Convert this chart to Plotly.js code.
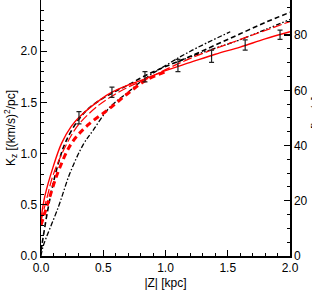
<!DOCTYPE html>
<html><head><meta charset="utf-8">
<script src="https://cdn.plot.ly/plotly-3.0.1.min.js"></script>
<style>html,body{margin:0;padding:0;background:#fff}#c{width:312px;height:291px}</style>
</head><body><div id="c"></div>
<script>
// Data points with error bars
const dataZ = [0.305, 0.57, 0.835, 1.10, 1.37, 1.64, 1.92];
const dataK = [1.35, 1.60, 1.75, 1.86, 1.95, 2.06, 2.16];
const dataErr = [0.06, 0.05, 0.05, 0.06, 0.06, 0.05, 0.045];

// Red solid model
const redSolidZ = [0.0, 0.03, 0.1, 0.165, 0.243, 0.31, 0.48, 0.57, 0.7, 0.835, 1.0, 1.2, 1.4, 1.6, 1.8, 2.0];
const redSolidK = [0.36, 0.58, 0.88, 1.10, 1.265, 1.36, 1.53, 1.60, 1.67, 1.73, 1.81, 1.89, 1.97, 2.04, 2.12, 2.19];

// Red thin dashed model
const redDashZ = [0.0, 0.05, 0.1, 0.2, 0.3, 0.45, 0.57, 0.7, 0.835, 1.0, 1.2, 1.5, 1.75, 2.0];
const redDashK = [0.34, 0.58, 0.80, 1.08, 1.28, 1.46, 1.56, 1.65, 1.72, 1.82, 1.93, 2.07, 2.18, 2.29];

// Red thick dashed model
const redThickZ = [0.0, 0.056, 0.137, 0.245, 0.377, 0.54, 0.69, 0.835, 1.0];
const redThickK = [0.30, 0.52, 0.82, 1.10, 1.28, 1.43, 1.58, 1.71, 1.80];

// Black dashed model
const blackDashZ = [0.0, 0.05, 0.1, 0.15, 0.2, 0.3, 0.4, 0.57, 0.7, 0.835, 1.0, 1.2, 1.4, 1.6, 1.8, 2.0];
const blackDashK = [0.05, 0.42, 0.72, 0.95, 1.12, 1.33, 1.46, 1.59, 1.67, 1.76, 1.85, 1.95, 2.06, 2.17, 2.28, 2.38];

// Black dash-dot model
const blackDotDashZ = [0.0, 0.016, 0.14, 0.233, 0.34, 0.42, 0.55, 0.69, 0.82, 1.0, 1.2, 1.52];
const blackDotDashK = [0.0, 0.09, 0.48, 0.81, 1.09, 1.23, 1.45, 1.59, 1.72, 1.86, 2.00, 2.19];

// Black dash-dot-dot-dot model
const blackD3Z = [1.1, 1.2, 1.4, 1.55, 1.8, 2.0];
const blackD3K = [1.895, 1.945, 2.03, 2.09, 2.21, 2.31];

const axisFont = {family: 'Liberation Sans, Arial, sans-serif', size: 12, color: '#000'};

const traces = [
  {x: blackDotDashZ, y: blackDotDashK, mode: 'lines', line: {color: '#000', width: 1.3, dash: '5px,2px,1.5px,2px', shape: 'spline'}},
  {x: blackDashZ, y: blackDashK, mode: 'lines', line: {color: '#000', width: 1.6, dash: '5px,3px', shape: 'spline'}},
  {x: blackD3Z, y: blackD3K, mode: 'lines', line: {color: '#000', width: 1.3, dash: '5px,2px,1.5px,2px,1.5px,2px,1.5px,2px', shape: 'spline'}},
  {x: redThickZ, y: redThickK, mode: 'lines', line: {color: '#ff0000', width: 3, dash: '6px,4px', shape: 'spline'}},
  {x: redDashZ, y: redDashK, mode: 'lines', line: {color: '#ff0000', width: 1.2, dash: '9px,3px', shape: 'spline'}},
  {x: redSolidZ, y: redSolidK, mode: 'lines', line: {color: '#ff0000', width: 1.4, shape: 'spline'}},
  {x: dataZ, y: dataK, mode: 'markers', marker: {size: 1, color: '#000'},
   error_y: {type: 'data', array: dataErr, visible: true, color: '#222', thickness: 1.2, width: 2.5}}
];

const layout = {
  width: 312, height: 291,
  margin: {l: 41, r: 22, t: 0, b: 35, pad: 0},
  paper_bgcolor: '#fff', plot_bgcolor: '#fff',
  showlegend: false,
  font: axisFont,
  xaxis: {
    range: [0, 2.0], tickvals: [0, 0.5, 1.0, 1.5, 2.0], ticktext: ['0.0', '0.5', '1.0', '1.5', '2.0'],
    ticks: 'inside', ticklen: 6, tickwidth: 1.2, tickcolor: '#000',
    minor: {dtick: 0.1, ticks: 'inside', ticklen: 3, tickcolor: '#000', tickwidth: 1},
    showline: true, linecolor: '#000', linewidth: 1.5, mirror: false,
    showgrid: false, zeroline: false, tickfont: axisFont,
    title: {text: '|Z| [kpc]', font: axisFont, standoff: 4}
  },
  yaxis: {
    range: [0, 2.5], tickvals: [0, 0.5, 1.0, 1.5, 2.0, 2.5], ticktext: ['0.0', '0.5', '1.0', '1.5', '2.0', '2.5'],
    ticks: 'inside', ticklen: 6, tickwidth: 1.2, tickcolor: '#000',
    minor: {dtick: 0.1, ticks: 'inside', ticklen: 3, tickcolor: '#000', tickwidth: 1},
    showline: true, linecolor: '#000', linewidth: 1.5,
    showgrid: false, zeroline: false, tickfont: axisFont,
    title: {text: 'K<sub>z</sub> [(km/s)<sup>2</sup>/pc]', font: axisFont, standoff: 2}
  },
  yaxis2: {
    overlaying: 'y', side: 'right', range: [0, 92.7],
    tickvals: [0, 20, 40, 60, 80],
    ticks: 'inside', ticklen: 6, tickwidth: 1.2, tickcolor: '#000',
    minor: {dtick: 5, ticks: 'inside', ticklen: 3, tickcolor: '#000', tickwidth: 1},
    showline: true, linecolor: '#000', linewidth: 1.5,
    showgrid: false, zeroline: false, tickfont: axisFont
  },
  annotations: [
    {text: 'σ<sub>z</sub> [km/s]', xref: 'paper', yref: 'paper', x: 1.11, y: 0.53,
     textangle: -90, showarrow: false, font: axisFont, xanchor: 'center', yanchor: 'middle'}
  ]
};

// invisible anchor so the right axis is drawn
traces.push({x: [0], y: [0], yaxis: 'y2', mode: 'markers', marker: {opacity: 0}, hoverinfo: 'skip'});

Plotly.newPlot('c', traces, layout, {staticPlot: true, displayModeBar: false});
</script></body></html>
